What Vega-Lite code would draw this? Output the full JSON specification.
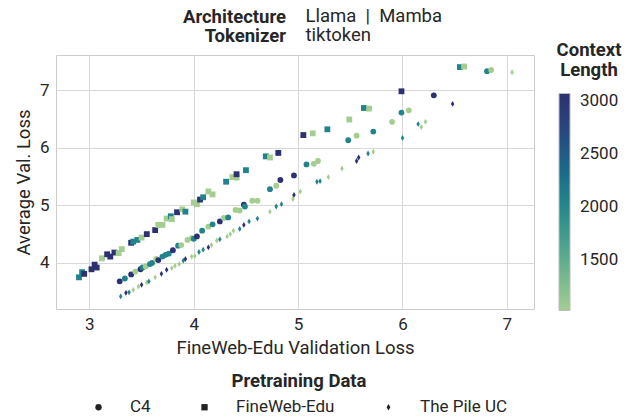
{
  "$schema": "https://vega.github.io/schema/vega-lite/v6.json",
  "width": 478,
  "height": 254,
  "autosize": {"type": "none"},
  "padding": {"left": 56, "top": 55, "right": 96, "bottom": 111},
  "config": {
    "font": "Roboto",
    "view": {"stroke": "#cccccc", "strokeWidth": 1},
    "axis": {
      "labelFontSize": 17,
      "titleFontSize": 18.5,
      "labelColor": "#262626",
      "titleColor": "#262626",
      "titleFontWeight": "normal",
      "gridColor": "#d9d9d9",
      "gridWidth": 1,
      "domain": false,
      "ticks": false,
      "labelPadding": 7,
      "titlePadding": 6
    },
    "legend": {"labelColor": "#262626", "titleColor": "#262626"}
  },
  "title": {
    "text": ["Architecture", "Tokenizer"],
    "anchor": "start",
    "frame": "group",
    "align": "right",
    "dx": 230,
    "fontSize": 18.5,
    "fontWeight": "bold",
    "lineHeight": 19,
    "color": "#262626",
    "baseline": "alphabetic",
    "offset": -54
  },
  "data": {
    "values": [
      {"fwe": 2.90, "avg": 3.75, "ctx": 2048, "data": "FineWeb-Edu"},
      {"fwe": 2.93, "avg": 3.84, "ctx": 2048, "data": "FineWeb-Edu"},
      {"fwe": 2.95, "avg": 3.81, "ctx": 3072, "data": "FineWeb-Edu"},
      {"fwe": 3.02, "avg": 3.89, "ctx": 3072, "data": "FineWeb-Edu"},
      {"fwe": 3.05, "avg": 3.97, "ctx": 3072, "data": "FineWeb-Edu"},
      {"fwe": 3.07, "avg": 3.92, "ctx": 3072, "data": "FineWeb-Edu"},
      {"fwe": 3.12, "avg": 4.08, "ctx": 1024, "data": "FineWeb-Edu"},
      {"fwe": 3.17, "avg": 4.15, "ctx": 3072, "data": "FineWeb-Edu"},
      {"fwe": 3.20, "avg": 4.11, "ctx": 3072, "data": "FineWeb-Edu"},
      {"fwe": 3.24, "avg": 4.18, "ctx": 3072, "data": "FineWeb-Edu"},
      {"fwe": 3.28, "avg": 4.17, "ctx": 1024, "data": "FineWeb-Edu"},
      {"fwe": 3.31, "avg": 4.24, "ctx": 1024, "data": "FineWeb-Edu"},
      {"fwe": 3.40, "avg": 4.35, "ctx": 3072, "data": "FineWeb-Edu"},
      {"fwe": 3.42, "avg": 4.37, "ctx": 2048, "data": "FineWeb-Edu"},
      {"fwe": 3.46, "avg": 4.40, "ctx": 2048, "data": "FineWeb-Edu"},
      {"fwe": 3.50, "avg": 4.44, "ctx": 1024, "data": "FineWeb-Edu"},
      {"fwe": 3.55, "avg": 4.50, "ctx": 3072, "data": "FineWeb-Edu"},
      {"fwe": 3.63, "avg": 4.57, "ctx": 3072, "data": "FineWeb-Edu"},
      {"fwe": 3.66, "avg": 4.66, "ctx": 1024, "data": "FineWeb-Edu"},
      {"fwe": 3.70, "avg": 4.66, "ctx": 1024, "data": "FineWeb-Edu"},
      {"fwe": 3.74, "avg": 4.77, "ctx": 1024, "data": "FineWeb-Edu"},
      {"fwe": 3.78, "avg": 4.81, "ctx": 2048, "data": "FineWeb-Edu"},
      {"fwe": 3.79, "avg": 4.76, "ctx": 1024, "data": "FineWeb-Edu"},
      {"fwe": 3.84, "avg": 4.88, "ctx": 3072, "data": "FineWeb-Edu"},
      {"fwe": 3.89, "avg": 4.93, "ctx": 1024, "data": "FineWeb-Edu"},
      {"fwe": 3.92, "avg": 4.89, "ctx": 2048, "data": "FineWeb-Edu"},
      {"fwe": 4.00, "avg": 5.05, "ctx": 1024, "data": "FineWeb-Edu"},
      {"fwe": 4.03, "avg": 5.02, "ctx": 1024, "data": "FineWeb-Edu"},
      {"fwe": 4.06, "avg": 5.10, "ctx": 3072, "data": "FineWeb-Edu"},
      {"fwe": 4.09, "avg": 5.14, "ctx": 2048, "data": "FineWeb-Edu"},
      {"fwe": 4.14, "avg": 5.24, "ctx": 1024, "data": "FineWeb-Edu"},
      {"fwe": 4.18, "avg": 5.19, "ctx": 1024, "data": "FineWeb-Edu"},
      {"fwe": 4.31, "avg": 5.41, "ctx": 2048, "data": "FineWeb-Edu"},
      {"fwe": 4.37, "avg": 5.49, "ctx": 1024, "data": "FineWeb-Edu"},
      {"fwe": 4.41, "avg": 5.48, "ctx": 1024, "data": "FineWeb-Edu"},
      {"fwe": 4.41, "avg": 5.54, "ctx": 3072, "data": "FineWeb-Edu"},
      {"fwe": 4.50, "avg": 5.61, "ctx": 2048, "data": "FineWeb-Edu"},
      {"fwe": 4.69, "avg": 5.85, "ctx": 2048, "data": "FineWeb-Edu"},
      {"fwe": 4.73, "avg": 5.83, "ctx": 1024, "data": "FineWeb-Edu"},
      {"fwe": 4.81, "avg": 5.91, "ctx": 3072, "data": "FineWeb-Edu"},
      {"fwe": 5.05, "avg": 6.22, "ctx": 3072, "data": "FineWeb-Edu"},
      {"fwe": 5.14, "avg": 6.25, "ctx": 1024, "data": "FineWeb-Edu"},
      {"fwe": 5.28, "avg": 6.32, "ctx": 2048, "data": "FineWeb-Edu"},
      {"fwe": 5.49, "avg": 6.49, "ctx": 1024, "data": "FineWeb-Edu"},
      {"fwe": 5.63, "avg": 6.69, "ctx": 2048, "data": "FineWeb-Edu"},
      {"fwe": 5.68, "avg": 6.68, "ctx": 1024, "data": "FineWeb-Edu"},
      {"fwe": 5.99, "avg": 6.98, "ctx": 3072, "data": "FineWeb-Edu"},
      {"fwe": 6.55, "avg": 7.40, "ctx": 2048, "data": "FineWeb-Edu"},
      {"fwe": 6.59, "avg": 7.41, "ctx": 1024, "data": "FineWeb-Edu"},
      {"fwe": 3.29, "avg": 3.68, "ctx": 3072, "data": "C4"},
      {"fwe": 3.34, "avg": 3.73, "ctx": 2048, "data": "C4"},
      {"fwe": 3.40, "avg": 3.80, "ctx": 3072, "data": "C4"},
      {"fwe": 3.44, "avg": 3.85, "ctx": 1024, "data": "C4"},
      {"fwe": 3.49, "avg": 3.89, "ctx": 3072, "data": "C4"},
      {"fwe": 3.51, "avg": 3.92, "ctx": 2048, "data": "C4"},
      {"fwe": 3.54, "avg": 3.94, "ctx": 1024, "data": "C4"},
      {"fwe": 3.58, "avg": 3.98, "ctx": 2048, "data": "C4"},
      {"fwe": 3.60, "avg": 4.00, "ctx": 2048, "data": "C4"},
      {"fwe": 3.64, "avg": 4.07, "ctx": 1024, "data": "C4"},
      {"fwe": 3.66, "avg": 4.05, "ctx": 3072, "data": "C4"},
      {"fwe": 3.70, "avg": 4.11, "ctx": 2048, "data": "C4"},
      {"fwe": 3.73, "avg": 4.14, "ctx": 2048, "data": "C4"},
      {"fwe": 3.76, "avg": 4.16, "ctx": 2048, "data": "C4"},
      {"fwe": 3.80, "avg": 4.22, "ctx": 3072, "data": "C4"},
      {"fwe": 3.85, "avg": 4.30, "ctx": 2048, "data": "C4"},
      {"fwe": 3.88, "avg": 4.31, "ctx": 1024, "data": "C4"},
      {"fwe": 3.94, "avg": 4.40, "ctx": 1024, "data": "C4"},
      {"fwe": 3.98, "avg": 4.43, "ctx": 1024, "data": "C4"},
      {"fwe": 4.00, "avg": 4.42, "ctx": 2048, "data": "C4"},
      {"fwe": 4.03, "avg": 4.46, "ctx": 3072, "data": "C4"},
      {"fwe": 4.08, "avg": 4.56, "ctx": 2048, "data": "C4"},
      {"fwe": 4.14, "avg": 4.63, "ctx": 1024, "data": "C4"},
      {"fwe": 4.18, "avg": 4.67, "ctx": 2048, "data": "C4"},
      {"fwe": 4.25, "avg": 4.72, "ctx": 3072, "data": "C4"},
      {"fwe": 4.29, "avg": 4.78, "ctx": 1024, "data": "C4"},
      {"fwe": 4.33, "avg": 4.79, "ctx": 2048, "data": "C4"},
      {"fwe": 4.40, "avg": 4.92, "ctx": 1024, "data": "C4"},
      {"fwe": 4.44, "avg": 4.91, "ctx": 1024, "data": "C4"},
      {"fwe": 4.48, "avg": 5.01, "ctx": 3072, "data": "C4"},
      {"fwe": 4.49, "avg": 4.98, "ctx": 2048, "data": "C4"},
      {"fwe": 4.56, "avg": 5.08, "ctx": 1024, "data": "C4"},
      {"fwe": 4.61, "avg": 5.08, "ctx": 1024, "data": "C4"},
      {"fwe": 4.73, "avg": 5.28, "ctx": 2048, "data": "C4"},
      {"fwe": 4.79, "avg": 5.34, "ctx": 1024, "data": "C4"},
      {"fwe": 4.83, "avg": 5.44, "ctx": 3072, "data": "C4"},
      {"fwe": 4.96, "avg": 5.52, "ctx": 3072, "data": "C4"},
      {"fwe": 5.08, "avg": 5.71, "ctx": 2048, "data": "C4"},
      {"fwe": 5.15, "avg": 5.72, "ctx": 1024, "data": "C4"},
      {"fwe": 5.19, "avg": 5.77, "ctx": 1024, "data": "C4"},
      {"fwe": 5.48, "avg": 6.13, "ctx": 2048, "data": "C4"},
      {"fwe": 5.56, "avg": 6.21, "ctx": 1024, "data": "C4"},
      {"fwe": 5.72, "avg": 6.28, "ctx": 2048, "data": "C4"},
      {"fwe": 5.90, "avg": 6.45, "ctx": 1024, "data": "C4"},
      {"fwe": 5.99, "avg": 6.61, "ctx": 2048, "data": "C4"},
      {"fwe": 6.06, "avg": 6.65, "ctx": 1024, "data": "C4"},
      {"fwe": 6.30, "avg": 6.91, "ctx": 3072, "data": "C4"},
      {"fwe": 6.81, "avg": 7.33, "ctx": 2048, "data": "C4"},
      {"fwe": 6.85, "avg": 7.35, "ctx": 1024, "data": "C4"},
      {"fwe": 3.30, "avg": 3.42, "ctx": 2048, "data": "The Pile UC"},
      {"fwe": 3.35, "avg": 3.48, "ctx": 3072, "data": "The Pile UC"},
      {"fwe": 3.38, "avg": 3.49, "ctx": 2048, "data": "The Pile UC"},
      {"fwe": 3.42, "avg": 3.53, "ctx": 1024, "data": "The Pile UC"},
      {"fwe": 3.47, "avg": 3.59, "ctx": 1024, "data": "The Pile UC"},
      {"fwe": 3.50, "avg": 3.62, "ctx": 3072, "data": "The Pile UC"},
      {"fwe": 3.55, "avg": 3.66, "ctx": 1024, "data": "The Pile UC"},
      {"fwe": 3.57, "avg": 3.68, "ctx": 2048, "data": "The Pile UC"},
      {"fwe": 3.63, "avg": 3.75, "ctx": 1024, "data": "The Pile UC"},
      {"fwe": 3.69, "avg": 3.81, "ctx": 3072, "data": "The Pile UC"},
      {"fwe": 3.74, "avg": 3.88, "ctx": 3072, "data": "The Pile UC"},
      {"fwe": 3.79, "avg": 3.91, "ctx": 1024, "data": "The Pile UC"},
      {"fwe": 3.82, "avg": 3.95, "ctx": 1024, "data": "The Pile UC"},
      {"fwe": 3.86, "avg": 3.98, "ctx": 1024, "data": "The Pile UC"},
      {"fwe": 3.90, "avg": 4.04, "ctx": 2048, "data": "The Pile UC"},
      {"fwe": 3.92, "avg": 4.07, "ctx": 3072, "data": "The Pile UC"},
      {"fwe": 3.98, "avg": 4.11, "ctx": 1024, "data": "The Pile UC"},
      {"fwe": 4.01, "avg": 4.12, "ctx": 1024, "data": "The Pile UC"},
      {"fwe": 4.05, "avg": 4.19, "ctx": 2048, "data": "The Pile UC"},
      {"fwe": 4.09, "avg": 4.23, "ctx": 2048, "data": "The Pile UC"},
      {"fwe": 4.14, "avg": 4.27, "ctx": 3072, "data": "The Pile UC"},
      {"fwe": 4.17, "avg": 4.31, "ctx": 1024, "data": "The Pile UC"},
      {"fwe": 4.22, "avg": 4.39, "ctx": 1024, "data": "The Pile UC"},
      {"fwe": 4.25, "avg": 4.41, "ctx": 2048, "data": "The Pile UC"},
      {"fwe": 4.32, "avg": 4.46, "ctx": 1024, "data": "The Pile UC"},
      {"fwe": 4.35, "avg": 4.50, "ctx": 1024, "data": "The Pile UC"},
      {"fwe": 4.38, "avg": 4.56, "ctx": 1024, "data": "The Pile UC"},
      {"fwe": 4.44, "avg": 4.59, "ctx": 2048, "data": "The Pile UC"},
      {"fwe": 4.48, "avg": 4.66, "ctx": 3072, "data": "The Pile UC"},
      {"fwe": 4.53, "avg": 4.72, "ctx": 2048, "data": "The Pile UC"},
      {"fwe": 4.61, "avg": 4.77, "ctx": 2048, "data": "The Pile UC"},
      {"fwe": 4.73, "avg": 4.89, "ctx": 1024, "data": "The Pile UC"},
      {"fwe": 4.79, "avg": 4.98, "ctx": 2048, "data": "The Pile UC"},
      {"fwe": 4.84, "avg": 5.02, "ctx": 2048, "data": "The Pile UC"},
      {"fwe": 4.95, "avg": 5.11, "ctx": 1024, "data": "The Pile UC"},
      {"fwe": 4.96, "avg": 5.18, "ctx": 3072, "data": "The Pile UC"},
      {"fwe": 5.02, "avg": 5.24, "ctx": 1024, "data": "The Pile UC"},
      {"fwe": 5.18, "avg": 5.41, "ctx": 2048, "data": "The Pile UC"},
      {"fwe": 5.21, "avg": 5.42, "ctx": 2048, "data": "The Pile UC"},
      {"fwe": 5.29, "avg": 5.49, "ctx": 1024, "data": "The Pile UC"},
      {"fwe": 5.42, "avg": 5.64, "ctx": 1024, "data": "The Pile UC"},
      {"fwe": 5.56, "avg": 5.77, "ctx": 3072, "data": "The Pile UC"},
      {"fwe": 5.58, "avg": 5.83, "ctx": 3072, "data": "The Pile UC"},
      {"fwe": 5.67, "avg": 5.90, "ctx": 2048, "data": "The Pile UC"},
      {"fwe": 5.72, "avg": 5.93, "ctx": 1024, "data": "The Pile UC"},
      {"fwe": 6.00, "avg": 6.17, "ctx": 2048, "data": "The Pile UC"},
      {"fwe": 6.15, "avg": 6.41, "ctx": 2048, "data": "The Pile UC"},
      {"fwe": 6.18, "avg": 6.36, "ctx": 1024, "data": "The Pile UC"},
      {"fwe": 6.22, "avg": 6.45, "ctx": 1024, "data": "The Pile UC"},
      {"fwe": 6.48, "avg": 6.76, "ctx": 3072, "data": "The Pile UC"},
      {"fwe": 7.05, "avg": 7.31, "ctx": 1024, "data": "The Pile UC"}
    ]
  },
  "layer": [
    {
      "mark": {"type": "point", "filled": true, "opacity": 1, "size": 34, "strokeWidth": 0},
      "encoding": {
        "x": {
          "field": "fwe", "type": "quantitative",
          "scale": {"domain": [2.68, 7.26], "nice": false, "zero": false},
          "axis": {"title": "FineWeb-Edu Validation Loss", "values": [3, 4, 5, 6, 7], "format": "d", "orient": "bottom"}
        },
        "y": {
          "field": "avg", "type": "quantitative",
          "scale": {"domain": [3.2, 7.61], "nice": false, "zero": false},
          "axis": {"title": "Average Val. Loss", "values": [4, 5, 6, 7], "format": "d"}
        },
        "color": {
          "field": "ctx", "type": "quantitative",
          "scale": {"domain": [1024, 3072], "range": ["#a5cd90", "#79ba8f", "#50a58e", "#2f8f8c", "#1f778b", "#225d88", "#29437e", "#2c3172"]},
          "legend": {
            "title": ["Context", "Length"],
            "orient": "none", "legendX": 501, "legendY": -14,
            "direction": "vertical",
            "gradientLength": 217, "gradientThickness": 11,
            "values": [1500, 2000, 2500, 3000], "format": "d",
            "titleAlign": "center", "titleAnchor": "middle",
            "titleFontSize": 18.5, "titleFontWeight": "bold", "titleLineHeight": 20, "titlePadding": 14,
            "labelFontSize": 17, "labelOffset": 10,
            "gradientStrokeColor": "#bbbbbb", "gradientStrokeWidth": 1
          }
        },
        "shape": {
          "field": "data", "type": "nominal",
          "scale": {"domain": ["C4", "FineWeb-Edu", "The Pile UC"], "range": ["circle", "square", "M0,-1L0.6,0L0,1L-0.6,0Z"]},
          "legend": {
            "title": "Pretraining Data",
            "orient": "none", "legendX": 34, "legendY": 317,
            "direction": "horizontal",
            "titleAnchor": "middle", "titleAlign": "center",
            "titleFontSize": 18.5, "titleFontWeight": "bold", "titlePadding": 8,
            "labelFontSize": 17, "labelOffset": 23, "columnPadding": 45,
            "symbolSize": 40, "symbolFillColor": "#222222", "symbolStrokeColor": "#222222", "symbolStrokeWidth": 0
          }
        }
      }
    },
    {
      "mark": {"type": "point", "opacity": 0},
      "encoding": {
        "x": {
          "field": "fwe", "type": "quantitative",
          "axis": {
            "orient": "top", "labels": false, "ticks": false, "domain": false, "grid": false,
            "title": ["Llama\u00a0\u00a0|\u00a0\u00a0Mamba", "tiktoken"],
            "titleAlign": "left", "titleAnchor": "start",
            "titleX": 249, "titleY": -34, "titleBaseline": "alphabetic",
            "titleFontWeight": "normal", "titleFontSize": 18.5, "titleLineHeight": 19
          }
        }
      }
    }
  ],
  "resolve": {"axis": {"x": "independent"}}
}
